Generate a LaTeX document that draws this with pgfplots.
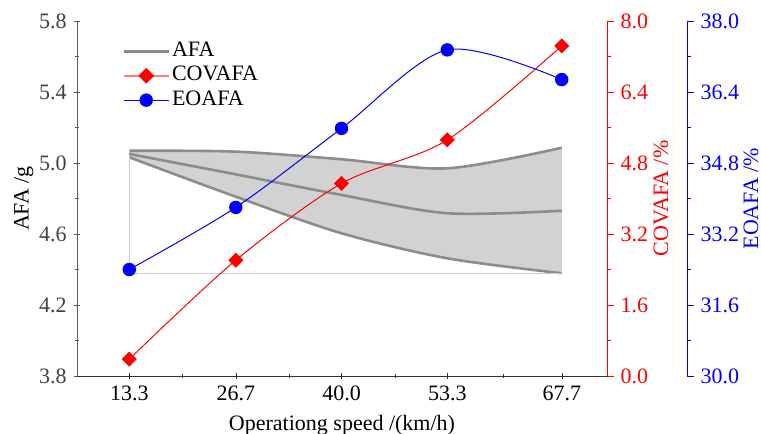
\documentclass[border=0pt]{standalone}
\usepackage{fontspec}
\setmainfont{Liberation Serif}
\usepackage{pgfplots}
\pgfplotsset{compat=1.18}
\usepgfplotslibrary{fillbetween}
\usetikzlibrary{calc}

\pgfplotsset{
  base/.style={
    scale only axis, width=265pt, height=177.5pt,
    xmin=6.72, xmax=73.39,
    tick align=outside, major tick length=3.3pt, minor tick length=2pt,
    /pgf/number format/assume math mode=true,
    tick label style={font=\fontsize{11}{13}\selectfont},
    label style={font=\fontsize{11}{13}\selectfont},
    yticklabel style={/pgf/number format/fixed, /pgf/number format/fixed zerofill, /pgf/number format/precision=1},
  },
}

\begin{document}
\begin{tikzpicture}
% AFA band (left axis)
\begin{axis}[base, name=main, set layers,
  axis x line=bottom, axis y line=left,
  axis line style={-}, x axis line style={black!80}, y axis line style={black!65},
  ymin=3.8, ymax=5.8, ytick={3.8,4.2,4.6,5.0,5.4,5.8}, minor y tick num=1,
  ytick style={black!65}, yticklabel style={black!75},
  xtick={13.3,26.7,40,53.3,67.7}, xticklabels={13.3,26.7,40.0,53.3,67.7},
  minor xtick={20,33.4,46.7,60.3}, xtick style={black!80},
  xlabel={Operationg speed /(km/h)},
  ylabel={AFA /g}, ylabel style={yshift=-4pt},
  legend style={at={(0.085,0.95)}, anchor=north west, draw=none, fill=none,
    inner sep=0pt, font=\fontsize{11}{13}\selectfont, row sep=0pt,
    nodes={inner sep=1pt, text height=7.6pt, text depth=2.6pt}},
  legend cell align=left,
  legend image code/.code={\draw[#1, mark repeat=2, mark phase=2] plot coordinates {(0pt,0pt) (11.25pt,0pt) (22.5pt,0pt)};},
]
\addplot[name path=up, black!45, line width=1.3pt, smooth, forget plot] coordinates {(13.3,5.069) (26.7,5.064) (40,5.021) (53.3,4.970) (67.7,5.086)};
\addplot[name path=lo, black!45, line width=1.3pt, smooth, forget plot] coordinates {(13.3,5.032) (26.7,4.810) (40,4.604) (53.3,4.463) (67.7,4.379)};
\addplot[fill=gray!35, forget plot] fill between[of=up and lo];
\addplot[black!20, line width=0.4pt, forget plot] coordinates {(13.3,5.069) (13.3,4.379) (67.7,4.379)};
\addplot[black!45, line width=1.3pt, smooth] coordinates {(13.3,5.051) (26.7,4.936) (40,4.820) (53.3,4.717) (67.7,4.731)};
\addlegendentry{AFA}
\addlegendimage{red!50, line width=0.8pt, mark=square*, mark size=2.4pt, mark options={rotate=45, red, fill=red}}
\addlegendentry{COVAFA}
\addlegendimage{blue, line width=0.5pt, mark=*, mark size=3.1pt, mark options={blue, fill=blue}}
\addlegendentry{EOAFA}
\end{axis}
% COVAFA (red right axis)
\begin{axis}[base, axis x line=none, axis y line*=right,
  y axis line style={red, -}, ytick style={red}, yticklabel style={red},
  ymin=0, ymax=8, ytick={0,1.6,3.2,4.8,6.4,8}, minor y tick num=1,
  ylabel={COVAFA /\%},
  ylabel style={red, at={($(rel axis cs:1,0.5)+(23pt,0pt)$)}, anchor=north, inner sep=0pt},
]
\addplot[red, line width=0.5pt, smooth, mark=square*, mark size=2.4pt, mark options={rotate=45, fill=red}] coordinates {(13.3,0.38) (26.7,2.61) (40,4.34) (53.3,5.32) (67.7,7.44)};
\end{axis}
% EOAFA (blue right axis, shifted)
\begin{axis}[base, at={(40pt,0pt)}, xmin=16.79, xmax=83.46, clip=false,
  axis x line=none, axis y line*=right,
  y axis line style={blue, -}, ytick style={blue}, yticklabel style={blue},
  ymin=30, ymax=38, ytick={30,31.6,33.2,34.8,36.4,38}, minor y tick num=1,
  ylabel={EOAFA /\%},
  ylabel style={blue, at={($(rel axis cs:1,0.5)+(28pt,0pt)$)}, anchor=north, inner sep=0pt},
]
\addplot[blue, line width=0.5pt, smooth, mark=*, mark size=3.1pt, mark options={fill=blue}] coordinates {(13.3,32.40) (26.7,33.80) (40,35.58) (53.3,37.35) (67.7,36.68)};
\end{axis}
\pgfresetboundingbox
\useasboundingbox (-38.5pt,-29pt) rectangle (342pt,188pt);
\end{tikzpicture}
\end{document}
